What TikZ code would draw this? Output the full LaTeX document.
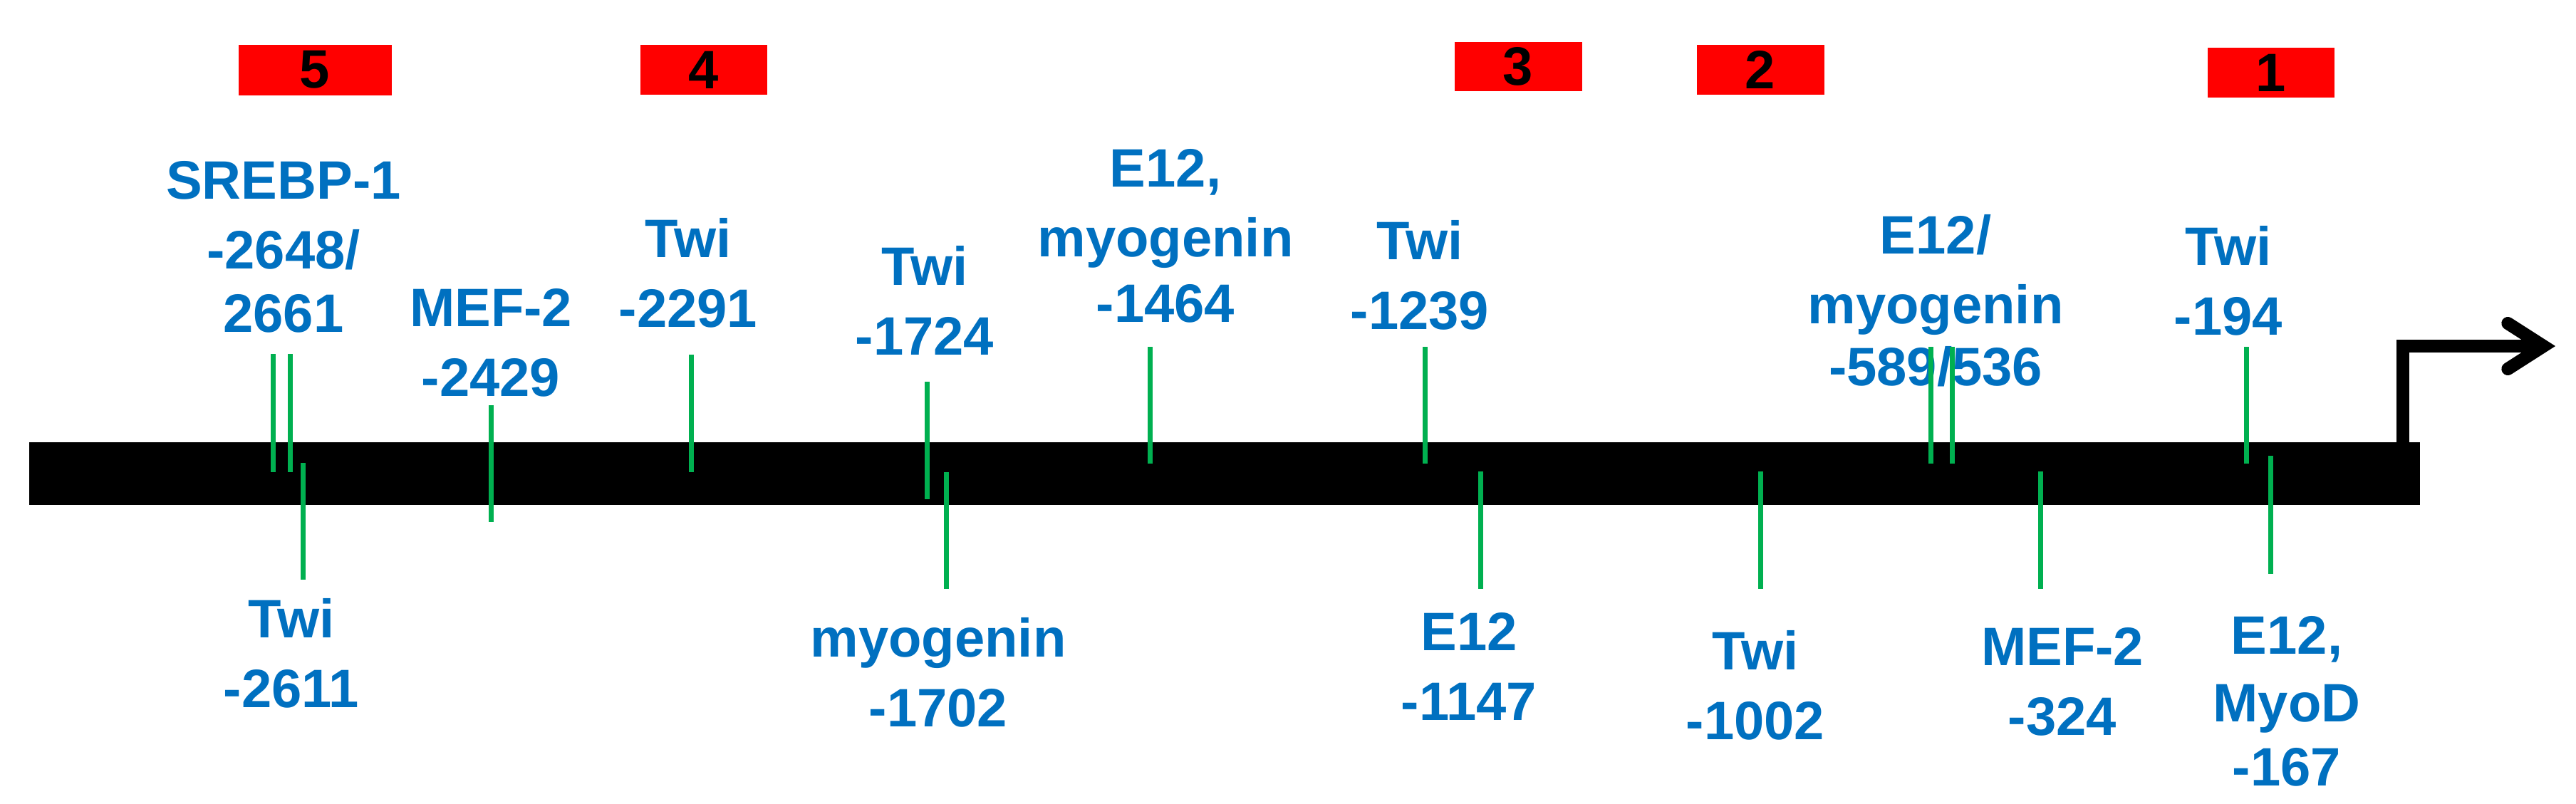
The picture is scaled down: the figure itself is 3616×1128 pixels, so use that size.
\documentclass[tikz,border=0pt]{standalone}
\usepackage{fontspec}
\setmainfont{Liberation Sans}
\usetikzlibrary{arrows.meta}
\definecolor{siteblue}{RGB}{0,112,192}
\definecolor{sitegreen}{RGB}{0,176,80}
\definecolor{boxred}{RGB}{255,0,0}

\begin{document}
\begin{tikzpicture}[x=1pt,y=-1pt,
    site/.style={font=\bfseries\fontsize{76}{98}\selectfont,text=siteblue,
      align=center,inner sep=0pt,anchor=north},
    bindline/.style={sitegreen,line width=7pt},
    regionbox/.style={fill=boxred,inner sep=0pt,
      font=\bfseries\fontsize{76}{98}\selectfont}]
        \useasboundingbox (0,0) rectangle (3616,1128);
        % promoter
        \fill (41,621) rectangle (3397,709);
        \draw[line width=18pt,-{Straight Barb[length=50pt,width=64pt,line cap=round]}]
          (3373,650) -- (3373,486) -- (3587,486);
        % numbered regions
        \foreach \n/\x/\y/\w/\h in {5/442/98/215/71, 4/988/98/178/70,
          3/2131/93/179/69, 2/2471/98/179/70, 1/3188/102/178/70} {
          \node[regionbox,minimum width=\w pt,minimum height=\h pt] (r\n) at (\x,\y) {\n};
        }
        % sites above
        \node[site] (srebp) at (398,226) {SREBP-1\\-2648/\\[-9pt]2661};
        \node[site] (mefA) at (689,405) {MEF-2\\-2429};
        \node[site] (twiA) at (966,306) {Twi\\-2291};
        \node[site] (twiB) at (1298,345) {Twi\\-1724};
        \node[site] (eA) at (1636,209) {E12,\\myogenin\\[-6pt]-1464};
        \node[site] (twiC) at (1993,309) {Twi\\-1239};
        \node[site] (eB) at (2717,301) {E12/\\myogenin\\[-11pt]-589/536};
        \node[site] (twiD) at (3128,317) {Twi\\-194};
        % sites below
        \node[site] (twiE) at (409,840) {Twi\\-2611};
        \node[site] (myoA) at (1317,867) {myogenin\\-1702};
        \node[site] (eC) at (2062,860) {E12\\-1147};
        \node[site] (twiF) at (2464,885) {Twi\\-1002};
        \node[site] (mefB) at (2895,881) {MEF-2\\-324};
        \node[site] (eD) at (3210,865) {E12,\\[-3pt]MyoD\\[-8pt]-167};
        % binding sites
        \foreach \x/\ya/\yb in {383/497/663, 407/497/663, 689/569/733,
          970/498/663, 1301/536/701, 1614/487/651, 2000/487/651,
          2710/487/651, 2740/487/651, 3153/487/651,
          425/650/814, 1328/663/827, 2078/662/827, 2471/662/827,
          2864/662/827, 3187/640/806} {
            \draw[bindline] (\x,\ya) -- (\x,\yb);
        }
      \end{tikzpicture}
\end{document}
